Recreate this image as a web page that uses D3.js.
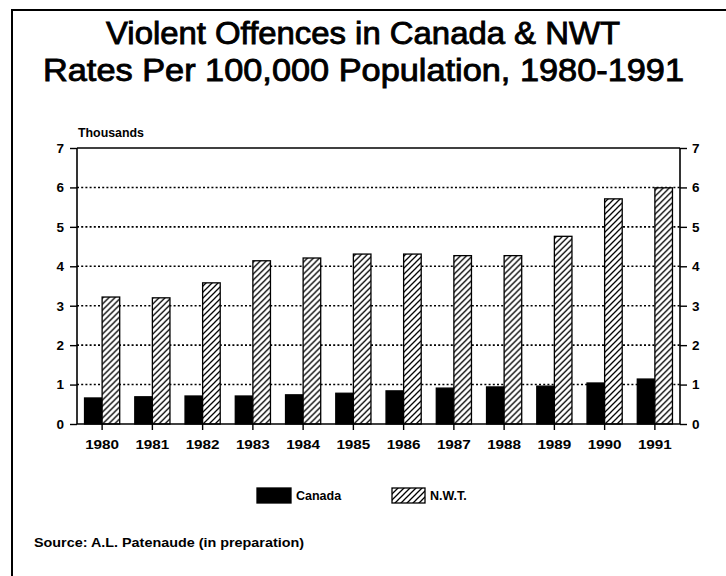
<!DOCTYPE html>
<html>
<head>
<meta charset="utf-8">
<script src="https://cdn.jsdelivr.net/npm/d3@7"></script>
<style>
  body { margin: 0; background: #fff; }
  svg { font-family: "Liberation Sans", Arial, sans-serif; }
  .lbl { font-weight: bold; font-size: 12.5px; }
</style>
</head>
<body>
<div id="chart"></div>
<script>
// data (thousands per 100,000)
var years = ["1980", "1981", "1982", "1983", "1984", "1985", "1986", "1987", "1988", "1989", "1990", "1991"];
var canada = [0.66, 0.69, 0.71, 0.71, 0.74, 0.78, 0.84, 0.91, 0.94, 0.96, 1.04, 1.14];
var nwt = [3.22, 3.20, 3.58, 4.14, 4.21, 4.31, 4.31, 4.27, 4.27, 4.76, 5.71, 5.99];
var seriesNames = ["Canada", "N.W.T."];
var yTicks = [0, 1, 2, 3, 4, 5, 6, 7];

var W = 726, H = 576;
var margin = {top: 148, right: 46, bottom: 152, left: 77},
    width = W - margin.left - margin.right,
    height = H - margin.top - margin.bottom;

var svg = d3.select("#chart").append("svg")
  .attr("width", W)
  .attr("height", H);

// hatch for N.W.T.
var defs = svg.append("defs");
var pat = defs.append("pattern")
  .attr("id", "hatch")
  .attr("patternUnits", "userSpaceOnUse")
  .attr("width", 6)
  .attr("height", 6);
pat.append("rect").attr("width", 6).attr("height", 6).attr("fill", "#fff");
pat.append("path")
  .attr("d", "M-1,7 L7,-1 M-4,4 L4,-4 M2,10 L10,2")
  .attr("stroke", "#000")
  .attr("stroke-width", 1.3);

// frame (top + left only, as in the scan)
svg.append("path")
  .attr("d", "M12,576 L12,10 L726,10")
  .attr("fill", "none")
  .attr("stroke", "#000")
  .attr("stroke-width", 2);

// title
var title = svg.append("g")
  .attr("font-size", "32px")
  .attr("fill", "#000")
  .attr("stroke", "#000")
  .attr("stroke-width", 0.9);
title.append("text").attr("x", 106).attr("y", 44)
  .attr("textLength", 514).attr("lengthAdjust", "spacingAndGlyphs")
  .text("Violent Offences in Canada & NWT");
title.append("text").attr("x", 43).attr("y", 81)
  .attr("textLength", 641).attr("lengthAdjust", "spacingAndGlyphs")
  .text("Rates Per 100,000 Population, 1980-1991");

var g = svg.append("g")
  .attr("transform", "translate(" + margin.left + "," + margin.top + ")");

// scales
var x = d3.scaleBand()
  .domain(years)
  .range([0, width])
  .paddingInner(0.3)
  .paddingOuter(0.15);

var x1 = d3.scaleBand()
  .domain(seriesNames)
  .range([0, x.bandwidth()]);

var y = d3.scaleLinear()
  .domain([0, 7])
  .range([height, 0]);

// dotted gridlines
g.selectAll(".grid").data(yTicks.filter(function(d) { return d > 0 && d < 7; }))
  .enter().append("line")
  .attr("class", "grid")
  .attr("x1", 0).attr("x2", width)
  .attr("y1", function(d) { return y(d); })
  .attr("y2", function(d) { return y(d); })
  .attr("stroke", "#000")
  .attr("stroke-width", 1.6)
  .attr("stroke-dasharray", "2,2.2");

// top line
g.append("line")
  .attr("x1", 0).attr("x2", width)
  .attr("y1", y(7)).attr("y2", y(7))
  .attr("stroke", "#000").attr("stroke-width", 1.6);

// bars
var rows = years.map(function(yr, i) {
  return {year: yr, vals: [{name: "Canada", v: canada[i]}, {name: "N.W.T.", v: nwt[i]}]};
});

var groups = g.selectAll(".yr").data(rows).enter().append("g")
  .attr("class", "yr")
  .attr("transform", function(d) { return "translate(" + x(d.year) + ",0)"; });

groups.selectAll("rect").data(function(d) { return d.vals; }).enter().append("rect")
  .attr("x", function(d) { return x1(d.name); })
  .attr("width", x1.bandwidth())
  .attr("y", function(d) { return y(d.v); })
  .attr("height", function(d) { return height - y(d.v); })
  .attr("fill", function(d) { return d.name == "Canada" ? "#000" : "url(#hatch)"; })
  .attr("stroke", "#000")
  .attr("stroke-width", 1.3);

// axes
var fmt = d3.format("d");
var yAxisL = d3.axisLeft(y).tickValues(yTicks).tickFormat(fmt).tickSize(7).tickPadding(6);
var yAxisR = d3.axisRight(y).tickValues(yTicks).tickFormat(fmt).tickSize(7).tickPadding(5);
var xAxis = d3.axisBottom(x).tickSize(6).tickPadding(9);

var gl = g.append("g").attr("class", "axis").call(yAxisL);
var gr = g.append("g").attr("class", "axis").attr("transform", "translate(" + width + ",0)").call(yAxisR);
var gx = g.append("g").attr("class", "axis").attr("transform", "translate(0," + height + ")").call(xAxis);

[gl, gr, gx].forEach(function(a) {
  a.select(".domain").attr("stroke", "#000").attr("stroke-width", 1.6);
  a.selectAll(".tick line").attr("stroke", "#000").attr("stroke-width", 1.4);
  a.selectAll(".tick text")
    .attr("class", "lbl")
    .attr("fill", "#000")
    .style("font-size", "13.5px")
    .style("font-weight", "bold");
});
gl.select(".domain").attr("d", "M0," + height + "V0");
gr.select(".domain").attr("d", "M0," + height + "V0");
gx.select(".domain").attr("d", "M0,0H" + width);
gx.selectAll(".tick text").attr("textLength", 34).attr("lengthAdjust", "spacingAndGlyphs");

// axis title
g.append("text")
  .attr("class", "lbl")
  .attr("x", 1).attr("y", -11)
  .attr("textLength", 66)
  .attr("lengthAdjust", "spacingAndGlyphs")
  .text("Thousands");

// legend
var legend = svg.append("g").attr("transform", "translate(257,488)");
var items = [
  {name: seriesNames[0], fill: "#000", x: 0, w: 34},
  {name: seriesNames[1], fill: "url(#hatch)", x: 135, w: 33}
];
var li = legend.selectAll(".li").data(items).enter().append("g")
  .attr("transform", function(d) { return "translate(" + d.x + ",0)"; });
li.append("rect")
  .attr("width", function(d) { return d.w; })
  .attr("height", 15)
  .attr("fill", function(d) { return d.fill; })
  .attr("stroke", "#000")
  .attr("stroke-width", 1.3);
li.append("text")
  .attr("class", "lbl")
  .attr("x", function(d) { return d.w + 5; })
  .attr("y", 12)
  .text(function(d) { return d.name; });

// source
svg.append("text")
  .attr("class", "lbl")
  .attr("x", 34).attr("y", 547)
  .attr("textLength", 270)
  .attr("lengthAdjust", "spacingAndGlyphs")
  .text("Source: A.L. Patenaude (in preparation)");
</script>
</body>
</html>
